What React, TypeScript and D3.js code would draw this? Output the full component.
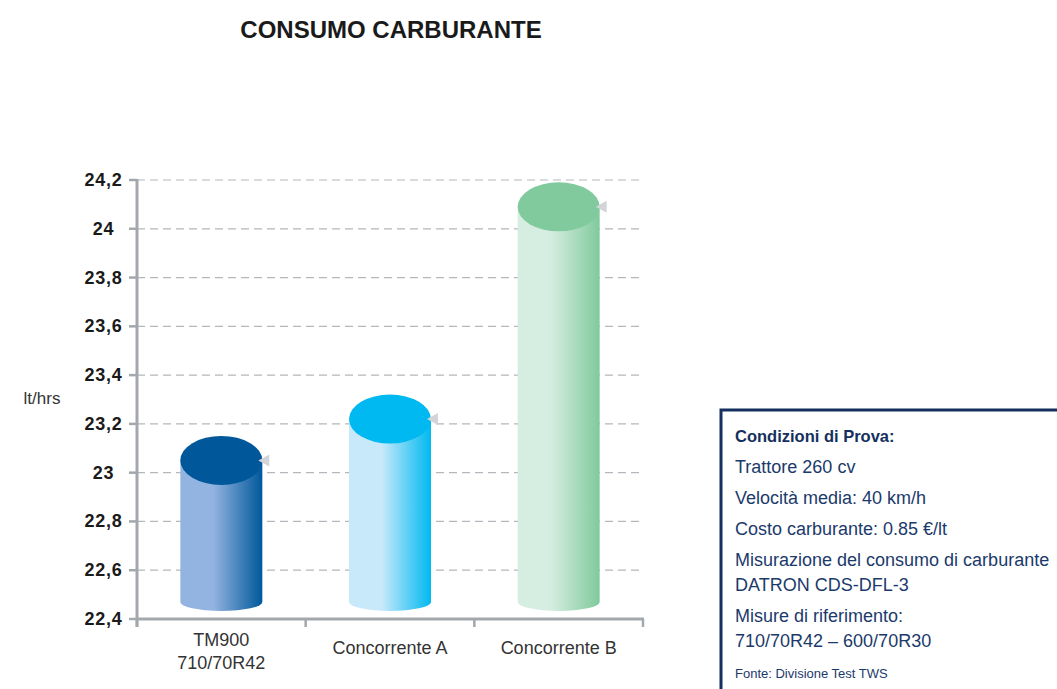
import React from "react";
import * as d3 from "d3";

const categories: string[][] = [["TM900", "710/70R42"], ["Concorrente A"], ["Concorrente B"]];
const values: number[] = [23.05, 23.22, 24.09];
const yTicks: number[] = [22.4, 22.6, 22.8, 23, 23.2, 23.4, 23.6, 23.8, 24, 24.2];
const yTickLabels: string[] = ["22,4", "22,6", "22,8", "23", "23,2", "23,4", "23,6", "23,8", "24", "24,2"];
const topColors: string[] = ["#00589b", "#00b9f0", "#80ca9d"];
const lightColors: string[] = ["#93b4e0", "#c7e9fa", "#d6ede1"];
const infoTitle = "Condizioni di Prova:";
const infoLines: { text: string; y: number }[] = [
  { text: "Trattore 260 cv", y: 473 },
  { text: "Velocità media: 40 km/h", y: 504 },
  { text: "Costo carburante: 0.85 €/lt", y: 535 },
  { text: "Misurazione del consumo di carburante", y: 566 },
  { text: "DATRON CDS-DFL-3", y: 591 },
  { text: "Misure di riferimento:", y: 622 },
  { text: "710/70R42 – 600/70R30", y: 647 },
];
const infoSource = "Fonte: Divisione Test TWS";

const W = 1057;
const H = 689;
const left = 137;
const right = 643;
const top = 180;
const bottom = 619;
const font = "'Liberation Sans', Arial, sans-serif";

export default function App() {
  const y = d3.scaleLinear().domain([22.4, 24.2]).range([bottom, top]);
  const x = d3.scaleBand<number>().domain(d3.range(values.length)).range([left, right]).padding(0);
  const barW = 82;
  const rx = barW / 2;
  const ryTop = 24.5;
  const ryBot = 9;
  const baseY = bottom - 17;
  const axisColor = "#a3a8ad";

  return (
    <svg width={W} height={H} style={{ position: "absolute", left: 0, top: 0, background: "#fff" }}>
      <defs>
        {values.map((_, i) => (
          <linearGradient key={i} id={`g${i}`} x1="0" x2="1" y1="0" y2="0">
            <stop offset="0%" stopColor={lightColors[i]} />
            <stop offset="40%" stopColor={lightColors[i]} />
            <stop offset="100%" stopColor={topColors[i]} />
          </linearGradient>
        ))}
      </defs>
      <text x={391} y={38} textAnchor="middle" fontFamily={font} fontWeight="bold" fontSize={24} fill="#1a1a1a">
        CONSUMO CARBURANTE
      </text>
      {yTicks.slice(1).map((t) => (
        <line key={t} x1={left} x2={right} y1={y(t)} y2={y(t)} stroke="#b4b7bb" strokeWidth={1.2} strokeDasharray="8,5" />
      ))}
      {yTicks.map((t, i) => (
        <g key={t}>
          <line x1={left - 8} x2={left} y1={y(t)} y2={y(t)} stroke={axisColor} strokeWidth={2.5} />
          <text x={103.5} y={y(t) + 6} textAnchor="middle" fontFamily={font} fontWeight="bold" fontSize={18} letterSpacing={0.7} fill="#1a1a1a">
            {yTickLabels[i]}
          </text>
        </g>
      ))}
      <text x={42} y={404} textAnchor="middle" fontFamily={font} fontSize={17} fill="#333">
        lt/hrs
      </text>
      {values.map((v, i) => {
        const cx = (x(i) as number) + x.bandwidth() / 2;
        const x0 = cx - rx;
        const x1 = cx + rx;
        const ty = y(v);
        const body = `M${x0},${ty} L${x0},${baseY} A${rx},${ryBot} 0 0 0 ${x1},${baseY} L${x1},${ty} Z`;
        return (
          <g key={i}>
            <path d={body} fill={`url(#g${i})`} />
            <ellipse cx={cx} cy={ty} rx={rx} ry={ryTop} fill={topColors[i]} />
            <path d={`M${x1 - 4},${ty} L${x1 + 7},${ty - 6} L${x1 + 7},${ty + 6} Z`} fill="#d3d4d8" />
          </g>
        );
      })}
      <line x1={left} x2={left} y1={top - 1} y2={bottom + 8} stroke={axisColor} strokeWidth={3} />
      <line x1={left} x2={right + 1} y1={bottom} y2={bottom} stroke={axisColor} strokeWidth={3} />
      {d3.range(values.length + 1).map((i) => {
        const xx = i < values.length ? (x(i) as number) : right;
        return <line key={i} x1={xx} x2={xx} y1={bottom} y2={bottom + 8} stroke={axisColor} strokeWidth={2.5} />;
      })}
      {categories.map((lines, i) => {
        const cx = (x(i) as number) + x.bandwidth() / 2;
        const y0 = lines.length === 1 ? 654 : 646;
        return (
          <text key={i} textAnchor="middle" fontFamily={font} fontSize={18} fill="#333">
            {lines.map((l, j) => (
              <tspan key={j} x={cx} y={y0 + j * 23}>
                {l}
              </tspan>
            ))}
          </text>
        );
      })}
      <rect x={721} y={410} width={400} height={400} fill="#fff" stroke="#15305e" strokeWidth={3} />
      <text x={735} y={442} fontFamily={font} fontWeight="bold" fontSize={16.5} fill="#15305e">
        {infoTitle}
      </text>
      {infoLines.map((l) => (
        <text key={l.text} x={735} y={l.y} fontFamily={font} fontSize={18} fill="#1b3a6b">
          {l.text}
        </text>
      ))}
      <text x={735} y={678} fontFamily={font} fontSize={13} fill="#1b3a6b">
        {infoSource}
      </text>
    </svg>
  );
}
